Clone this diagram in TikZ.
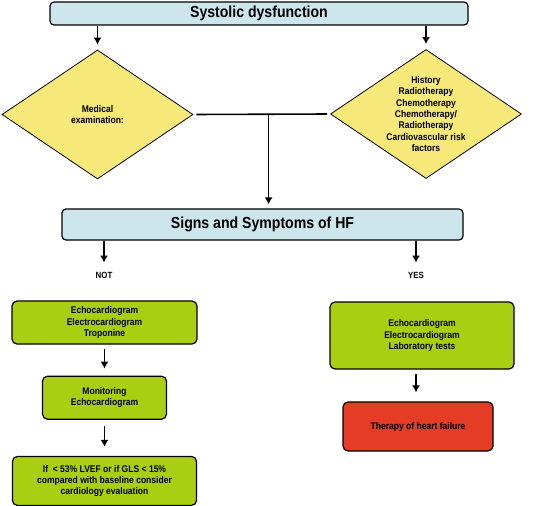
\documentclass[tikz,border=0pt]{standalone}
\usepackage{fontspec}
\setmainfont[FakeStretch=0.88]{Liberation Sans}
\usepackage{xcolor}
\usetikzlibrary{shapes.geometric, arrows.meta, positioning, calc}
\definecolor{headblue}{RGB}{205,230,236}
\definecolor{diayellow}{RGB}{246,233,122}
\definecolor{testgreen}{RGB}{170,207,18}
\definecolor{therred}{RGB}{229,60,38}
\tikzset{
  headbox/.style={rectangle, draw, fill=headblue, rounded corners=4pt, line width=1.2pt,
                  inner sep=0pt, font=\fontsize{16}{18}\selectfont\bfseries},
  riskdia/.style={diamond, draw, fill=diayellow, line width=0.8pt, inner sep=-5pt,
                  aspect=1.5, minimum width=191pt, minimum height=129pt, align=center,
                  font=\fontsize{9.7}{11.3}\selectfont\bfseries},
  testbox/.style={rectangle, draw, fill=testgreen, rounded corners=5pt, line width=1.2pt,
                  inner sep=0pt, align=center, font=\fontsize{9.7}{11.3}\selectfont\bfseries},
  therbox/.style={testbox, fill=therred},
  answer/.style={font=\fontsize{9}{10}\selectfont\bfseries, inner sep=1pt},
  arrow/.style={-{Latex[length=7pt, width=8pt]}, line width=1.6pt},
  link/.style={line width=1.6pt},
}
\begin{document}
\begin{tikzpicture}[x=1pt, y=-1pt]
  \useasboundingbox (0,0) rectangle (553,505);

  \node (sys) [headbox, minimum width=418pt, minimum height=23pt] at (259,13.5) {Systolic dysfunction};
  \node (medexam) [riskdia] at (97.5,114.5) {Medical\\examination:};
  \node (risk) [riskdia] at (426,114) {History\\Radiotherapy\\Chemotherapy\\Chemotherapy/\\Radiotherapy\\Cardiovascular risk\\factors};
  \node (signs) [headbox, minimum width=401pt, minimum height=31pt] at (262.5,224.5) {Signs and Symptoms of HF};

  \node (no) [answer] at (104,275) {NOT};
  \node (yes) [answer] at (416,275) {YES};

  \node (echol) [testbox, minimum width=185pt, minimum height=43pt] at (104.5,322.5) {Echocardiogram\\Electrocardiogram\\Troponine};
  \node (monit) [testbox, minimum width=124pt, minimum height=43pt, below=31pt of echol] {Monitoring\\Echocardiogram};
  \node (evalcard) [testbox, minimum width=184pt, minimum height=49pt, below=36pt of monit] {If \ < 53\% LVEF or if GLS < 15\%\\compared with baseline consider\\cardiology evaluation};

  \node (echor) [testbox, minimum width=184pt, minimum height=67pt] at (422,335.5) {Echocardiogram\\Electrocardiogram\\Laboratory tests};
  \node (therapy) [therbox, minimum width=150pt, minimum height=49pt] at (418,426.5) {Therapy of heart failure};

  \coordinate (junc) at ($(medexam.east)!0.55!(risk.west)$);

  \draw[arrow, shorten >=5pt] (sys.south -| medexam) -- (medexam.north);
  \draw[arrow, shorten >=5pt] (sys.south -| risk) -- (risk.north);
  \draw[link, shorten <=3pt, shorten >=3pt] (medexam.east) -- (risk.west);
  \draw[arrow, shorten >=4pt] (junc) -- (junc |- signs.north);
  \draw[arrow, shorten >=8pt] (signs.south -| no) -- (no.north);
  \draw[arrow, shorten >=8pt] (signs.south -| yes) -- (yes.north);
  \draw[arrow, shorten <=4pt, shorten >=7pt] (echol) -- (monit);
  \draw[arrow, shorten <=6pt, shorten >=9pt] (monit) -- (evalcard);
  \draw[arrow, shorten <=4pt, shorten >=9pt] (echor.south -| yes) -- (therapy.north -| yes);
\end{tikzpicture}
\end{document}
